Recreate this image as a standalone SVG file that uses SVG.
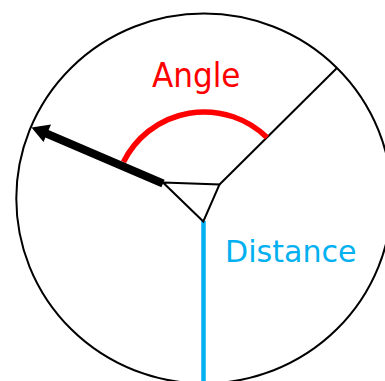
<svg xmlns="http://www.w3.org/2000/svg" width="385" height="381" viewBox="0 0 385 381">
<style>
.thin{fill:none;stroke:#000;stroke-width:2;stroke-linejoin:miter}
.lbl{font-family:"DejaVu Sans","Liberation Sans",sans-serif}
</style>
<rect width="385" height="381" fill="#fff"/>
<g id="circle"><ellipse class="thin" cx="204" cy="198.5" rx="187.7" ry="185"/></g>
<g id="connectors">
<line class="thin" x1="219.5" y1="184.5" x2="336.7" y2="68.3"/>
<line x1="203.5" y1="221" x2="203.5" y2="381" stroke="#00B0F0" stroke-width="4.5"/>
<path d="M123.5,162 A90,90 0 0 1 267,137.5" fill="none" stroke="#FF0000" stroke-width="5.5"/>
<line x1="163" y1="183.5" x2="44" y2="132.5" stroke="#000" stroke-width="8"/>
<polygon points="31.5,127.5 51,124.5 43.5,142" fill="#000"/>
</g>
<g id="triangle"><polygon class="thin" points="163,182.5 219.5,184.5 203.3,221.5" stroke-width="2.5"/></g>
<g id="angle-label"><text class="lbl" x="152" y="86.7" font-size="33" fill="#FF0000" textLength="88.5" lengthAdjust="spacingAndGlyphs">Angle</text></g>
<g id="distance-label"><text class="lbl" x="225" y="262" font-size="29.5" fill="#00B0F0" textLength="131.5" lengthAdjust="spacingAndGlyphs">Distance</text></g>
</svg>
